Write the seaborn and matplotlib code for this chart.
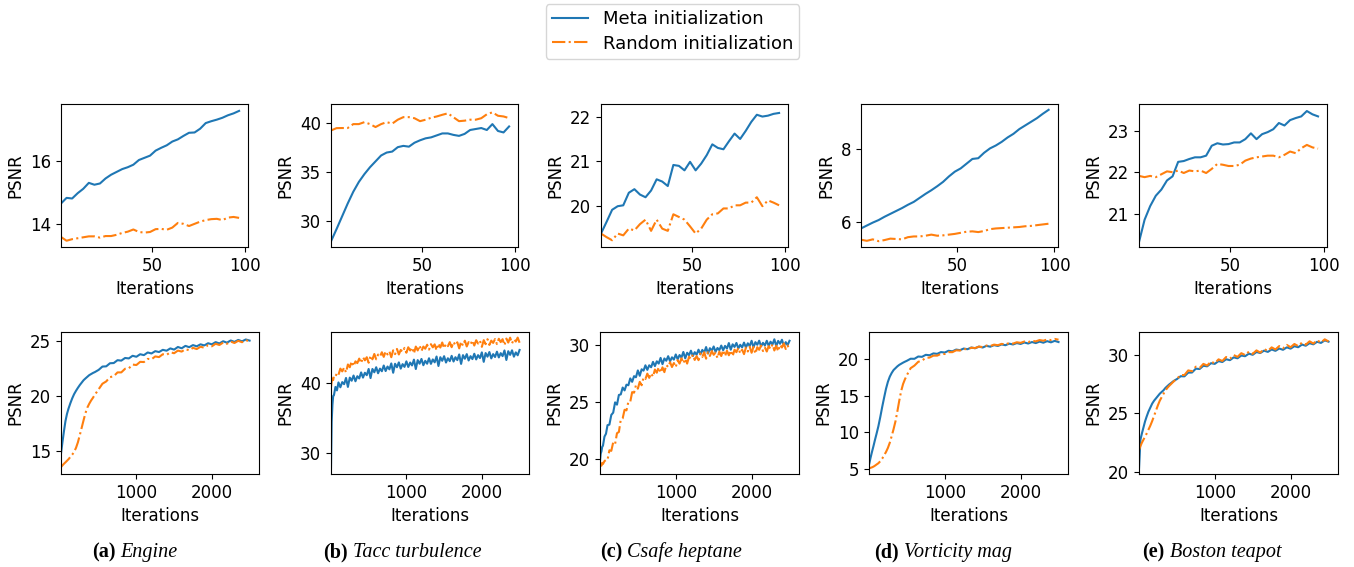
import matplotlib
matplotlib.use("Agg")
import matplotlib.pyplot as plt
import seaborn as sns
from matplotlib.lines import Line2D

# ---------------- data ----------------
top_iters = [1, 4, 7, 10, 13, 16, 19, 22, 25, 28, 31, 34, 37, 40, 43, 46, 49,
             52, 55, 58, 61, 64, 67, 70, 73, 76, 79, 82, 85, 88, 91, 94, 97]

bottom_iters = [1, 20, 40, 60, 80, 100, 125, 150, 175, 200, 225, 250, 275, 300,
                325, 350, 375, 400, 425, 450, 475, 500,
                550, 600, 650, 700, 750, 800, 850, 900, 950, 1000, 1050, 1100,
                1150, 1200, 1250, 1300, 1350, 1400, 1450, 1500, 1550, 1600, 1650,
                1700, 1750, 1800, 1850, 1900, 1950, 2000, 2050, 2100, 2150, 2200,
                2250, 2300, 2350, 2400, 2450, 2500]

# finer sampling for the two noisy runs
dense_iters = [1, 10, 20, 30, 40, 60, 80,
               100, 125, 150, 175, 200, 225, 250, 275, 300, 325, 350, 375, 400,
               425, 450, 475, 500, 525, 550, 575, 600, 625, 650, 675, 700, 725,
               750, 775, 800, 825, 850, 875, 900, 925, 950, 975, 1000, 1025, 1050,
               1075, 1100, 1125, 1150, 1175, 1200, 1225, 1250, 1275, 1300, 1325,
               1350, 1375, 1400, 1425, 1450, 1475, 1500, 1525, 1550, 1575, 1600,
               1625, 1650, 1675, 1700, 1725, 1750, 1775, 1800, 1825, 1850, 1875,
               1900, 1925, 1950, 1975, 2000, 2025, 2050, 2075, 2100, 2125, 2150,
               2175, 2200, 2225, 2250, 2275, 2300, 2325, 2350, 2375, 2400, 2425,
               2450, 2475, 2500]

# --- top row (first 100 iterations) ---
engine_top_meta = [14.64, 14.82, 14.80, 14.97, 15.11, 15.30, 15.24, 15.28, 15.44, 15.56, 15.65,
                   15.74, 15.80, 15.88, 16.03, 16.10, 16.17, 16.33, 16.42, 16.50, 16.62, 16.69,
                   16.80, 16.90, 16.91, 17.03, 17.21, 17.27, 17.32, 17.38, 17.46, 17.52, 17.60]
engine_top_random = [13.57, 13.45, 13.50, 13.53, 13.56, 13.59, 13.59, 13.55, 13.60, 13.60, 13.64,
                     13.70, 13.74, 13.81, 13.73, 13.71, 13.73, 13.82, 13.83, 13.80, 13.87, 14.02,
                     13.99, 13.92, 13.99, 14.06, 14.11, 14.14, 14.15, 14.11, 14.19, 14.21, 14.18]

tacc_top_meta = [27.95, 29.2, 30.5, 31.8, 33.0, 34.0, 34.8, 35.5, 36.1, 36.7, 37.0,
                 37.1, 37.55, 37.68, 37.6, 38.0, 38.25, 38.45, 38.55, 38.75, 38.95, 38.95,
                 38.8, 38.7, 38.9, 39.3, 39.4, 39.5, 39.3, 39.9, 39.2, 39.05, 39.66]
tacc_top_random = [39.25, 39.49, 39.5, 39.5, 39.9, 39.9, 40.1, 39.9, 39.6, 39.9, 40.1,
                   39.95, 40.35, 40.61, 40.61, 40.5, 40.2, 40.35, 40.55, 40.68, 40.85, 41.0,
                   40.6, 40.2, 40.25, 40.35, 40.35, 40.5, 40.9, 41.1, 40.75, 40.68, 40.51]

csafe_top_meta = [19.39, 19.65, 19.92, 20.0, 20.02, 20.3, 20.38, 20.26, 20.2, 20.35, 20.6,
                  20.55, 20.45, 20.92, 20.9, 20.8, 20.99, 20.8, 20.95, 21.14, 21.38, 21.3,
                  21.27, 21.45, 21.62, 21.5, 21.68, 21.88, 22.04, 22.0, 22.02, 22.06, 22.08]
csafe_top_random = [19.39, 19.31, 19.24, 19.39, 19.35, 19.5, 19.46, 19.6, 19.7, 19.45, 19.7,
                    19.5, 19.45, 19.82, 19.76, 19.7, 19.55, 19.39, 19.5, 19.7, 19.82, 19.84,
                    19.95, 19.95, 20.02, 20.02, 20.08, 20.08, 20.2, 20.0, 20.13, 20.08, 20.02]

vort_top_meta = [5.82, 5.9, 5.98, 6.05, 6.14, 6.22, 6.3, 6.38, 6.47, 6.55, 6.66,
                 6.77, 6.87, 6.98, 7.1, 7.25, 7.38, 7.47, 7.6, 7.73, 7.75, 7.9,
                 8.02, 8.1, 8.2, 8.32, 8.42, 8.55, 8.65, 8.75, 8.85, 8.97, 9.08]
vort_top_random = [5.51, 5.48, 5.52, 5.47, 5.5, 5.54, 5.53, 5.52, 5.58, 5.6, 5.6,
                   5.62, 5.65, 5.62, 5.63, 5.65, 5.67, 5.7, 5.73, 5.74, 5.72, 5.75,
                   5.8, 5.82, 5.83, 5.84, 5.85, 5.86, 5.88, 5.89, 5.91, 5.93, 5.95]

boston_top_meta = [20.31, 20.85, 21.18, 21.43, 21.58, 21.8, 21.9, 22.25, 22.27, 22.32, 22.36,
                   22.36, 22.4, 22.64, 22.7, 22.67, 22.68, 22.72, 22.72, 22.8, 22.94, 22.8,
                   22.92, 22.97, 23.04, 23.19, 23.13, 23.26, 23.31, 23.35, 23.48, 23.4, 23.35]
boston_top_random = [21.91, 21.88, 21.91, 21.88, 21.95, 22.02, 22.0, 22.04, 21.98, 22.04, 22.02,
                     22.04, 21.98, 22.08, 22.2, 22.18, 22.15, 22.15, 22.18, 22.28, 22.33, 22.36,
                     22.38, 22.4, 22.4, 22.36, 22.42, 22.5, 22.46, 22.58, 22.66, 22.6, 22.57]

# --- bottom row (2500 iterations) ---
engine_bot_meta = [14.79, 15.8, 16.8, 17.72, 18.37, 18.85, 19.35, 19.8, 20.18, 20.48, 20.75,
                   21.0, 21.22, 21.44, 21.6, 21.75, 21.9, 22.0, 22.1, 22.18, 22.28, 22.38,
                   22.68, 22.7, 22.98, 23.0, 23.26, 23.22, 23.46, 23.42, 23.66, 23.57,
                   23.8, 23.72, 23.96, 23.87, 24.08, 24.0, 24.2, 24.12, 24.33, 24.22,
                   24.46, 24.34, 24.56, 24.44, 24.63, 24.52, 24.7, 24.6, 24.8, 24.7,
                   24.9, 24.78, 24.98, 24.85, 25.05, 24.92, 25.1, 24.97, 25.14, 25.04]
engine_bot_random = [13.55, 13.7, 13.85, 13.98, 14.12, 14.26, 14.47, 14.68, 14.93, 15.3, 15.8,
                     16.45, 17.12, 17.8, 18.45, 18.95, 19.3, 19.6, 19.85, 20.13, 20.37, 20.62,
                     21.12, 21.33, 21.72, 21.8, 22.15, 22.15, 22.48, 22.52, 22.86, 22.82,
                     23.11, 23.09, 23.38, 23.34, 23.6, 23.54, 23.8, 23.74, 23.98, 23.89,
                     24.13, 24.04, 24.26, 24.16, 24.38, 24.27, 24.48, 24.39, 24.62, 24.52,
                     24.75, 24.64, 24.86, 24.75, 24.95, 24.82, 25.02, 24.89, 25.08, 24.96]

tacc_bot_meta = [27.74, 34.5, 36.9, 38.2, 38.3, 39.5, 39.0,
                 40.15, 39.45, 40.2, 39.9, 40.8, 39.5, 40.85, 40.4, 41.15, 40.32, 41.05, 40.73,
                 41.6, 40.85, 41.55, 41.2, 42.1, 40.78, 42.1, 41.62, 42.35, 41.48, 42.15, 41.77,
                 42.6, 41.8, 42.45, 42.05, 42.9, 41.55, 42.85, 42.35, 43.05, 42.15, 42.8, 42.4,
                 43.2, 42.39, 43.03, 42.61, 43.45, 42.09, 43.38, 42.86, 43.55, 42.64, 43.28, 42.86,
                 43.65, 42.84, 43.48, 43.06, 43.9, 42.53, 43.8, 43.28, 43.95, 43.03, 43.65, 43.23,
                 44.0, 43.18, 43.8, 43.38, 44.2, 42.83, 44.1, 43.58, 44.25, 43.33, 43.95, 43.53,
                 44.3, 43.48, 44.1, 43.68, 44.5, 43.13, 44.4, 43.88, 44.55, 43.63, 44.25, 43.83,
                 44.6, 43.77, 44.39, 43.96, 44.78, 43.4, 44.67, 44.14, 44.8, 43.88, 44.5, 44.08,
                 44.85]
tacc_bot_random = [39.5, 40.3, 40.7, 40.5, 41.1, 41.0, 41.5,
                   41.25, 42.15, 41.75, 42.3, 41.6, 42.75, 42.35, 43.2, 42.5, 43.2, 42.95, 43.6,
                   42.95, 43.8, 43.35, 43.8, 43.0, 44.03, 43.5, 44.27, 43.5, 44.18, 43.9, 44.52,
                   43.85, 44.65, 44.2, 44.65, 43.8, 44.8, 44.25, 45.0, 44.2, 44.85, 44.55, 45.15,
                   44.45, 45.24, 44.78, 45.21, 44.35, 45.34, 44.78, 45.51, 44.7, 45.34, 45.03, 45.61,
                   44.9, 45.69, 45.23, 45.66, 44.8, 45.78, 45.2, 45.93, 45.1, 45.73, 45.4, 45.98,
                   45.25, 46.02, 45.54, 45.96, 45.08, 46.05, 45.47, 46.19, 45.36, 45.98, 45.65, 46.22,
                   45.49, 46.26, 45.78, 46.19, 45.3, 46.27, 45.69, 46.41, 45.58, 46.2, 45.87, 46.43,
                   45.7, 46.47, 45.99, 46.41, 45.53, 46.5, 45.92, 46.63, 45.8, 46.41, 46.07, 46.64,
                   45.9]

csafe_bot_meta = [19.9, 20.5, 20.7, 21.1, 21.2, 22.0, 22.25,
                  23.0, 23.05, 23.9, 24.1, 25.0, 24.8, 25.65, 25.7, 26.3, 26.05, 26.55, 26.5,
                  27.1, 26.8, 27.3, 27.2, 27.8, 27.33, 27.9, 27.78, 28.25, 27.85, 28.25, 28.08,
                  28.55, 28.18, 28.6, 28.4, 28.9, 28.35, 28.85, 28.65, 29.05, 28.6, 28.95, 28.75,
                  29.2, 28.78, 29.15, 28.93, 29.42, 28.86, 29.35, 29.14, 29.53, 29.06, 29.4, 29.18,
                  29.62, 29.21, 29.6, 29.37, 29.85, 29.28, 29.75, 29.53, 29.9, 29.43, 29.77, 29.58,
                  29.98, 29.57, 29.95, 29.72, 30.2, 29.62, 30.09, 29.86, 30.21, 29.73, 30.05, 29.82,
                  30.24, 29.81, 30.18, 29.94, 30.4, 29.82, 30.28, 30.05, 30.41, 29.91, 30.22, 29.99,
                  30.4, 29.96, 30.32, 30.07, 30.53, 29.93, 30.39, 30.14, 30.49, 29.98, 30.28, 30.02,
                  30.4]
csafe_bot_random = [19.4, 19.6, 19.45, 19.7, 19.6, 19.85, 19.95,
                    19.95, 20.8, 20.75, 21.5, 21.35, 22.3, 22.4, 23.5, 23.6, 24.35, 24.3, 25.05,
                    25.05, 25.9, 25.85, 26.5, 26.2, 26.8, 26.5, 27.18, 27.05, 27.52, 27.15, 27.55,
                    27.25, 27.88, 27.6, 28.08, 27.6, 28.07, 27.65, 28.28, 28.1, 28.52, 28.1, 28.45,
                    28.1, 28.7, 28.4, 28.86, 28.43, 28.83, 28.4, 29.0, 28.8, 29.18, 28.72, 29.06,
                    28.7, 29.29, 28.98, 29.4, 28.83, 29.4, 29.07, 29.5, 29.17, 29.37, 28.88, 29.45,
                    29.06, 29.58, 29.05, 29.53, 29.13, 29.55, 29.05, 29.62, 29.4, 29.78, 29.3, 29.62,
                    29.23, 29.8, 29.46, 29.88, 29.35, 29.86, 29.27, 29.84, 29.61, 29.98, 29.5, 29.82,
                    29.46, 29.93, 29.68, 30.09, 29.55, 29.97, 29.48, 30.05, 29.81, 30.17, 29.68, 29.99,
                    29.6]

vort_bot_meta = [5.6, 6.5, 7.35, 8.15, 9.0, 9.8, 10.85, 12.1, 13.45, 14.7, 15.9,
                 16.85, 17.55, 18.05, 18.45, 18.7, 18.95, 19.15, 19.3, 19.45, 19.58, 19.7,
                 19.98, 19.97, 20.28, 20.24, 20.51, 20.45, 20.7, 20.64, 20.88, 20.82,
                 21.06, 20.98, 21.22, 21.14, 21.36, 21.27, 21.5, 21.4, 21.62, 21.5,
                 21.72, 21.61, 21.82, 21.71, 21.92, 21.81, 22.02, 21.91, 22.1, 21.98,
                 22.18, 22.04, 22.24, 22.1, 22.3, 22.15, 22.36, 22.2, 22.4, 22.24]
vort_bot_random = [5.14, 5.2, 5.27, 5.37, 5.5, 5.65, 5.83, 6.1, 6.45, 6.9, 7.35,
                   7.9, 8.6, 9.5, 10.45, 11.5, 12.85, 14.3, 15.6, 16.55, 17.2, 17.75,
                   18.7, 19.05, 19.56, 19.74, 20.09, 20.14, 20.4, 20.4, 20.64, 20.62,
                   20.87, 20.87, 21.12, 21.09, 21.3, 21.26, 21.47, 21.42, 21.62, 21.56,
                   21.76, 21.7, 21.89, 21.81, 21.99, 21.92, 22.11, 22.03, 22.21, 22.13,
                   22.31, 22.23, 22.41, 22.33, 22.51, 22.42, 22.59, 22.5, 22.66, 22.56]

boston_bot_meta = [20.25, 22.75, 23.3, 23.8, 24.3, 24.7, 25.15, 25.5, 25.85, 26.1, 26.3,
                   26.5, 26.7, 26.85, 27.0, 27.2, 27.35, 27.5, 27.62, 27.75, 27.86, 27.95,
                   28.2, 28.19, 28.51, 28.52, 28.85, 28.82, 29.1, 29.05, 29.32, 29.26,
                   29.5, 29.42, 29.66, 29.58, 29.82, 29.74, 29.98, 29.92, 30.14, 30.04,
                   30.28, 30.19, 30.4, 30.29, 30.5, 30.38, 30.58, 30.47, 30.68, 30.57,
                   30.78, 30.69, 30.92, 30.82, 31.04, 30.94, 31.16, 31.06, 31.28, 31.17]
boston_bot_random = [21.86, 22.2, 22.5, 22.75, 23.0, 23.25, 23.6, 23.95, 24.35, 24.8, 25.25,
                     25.7, 26.1, 26.4, 26.7, 26.98, 27.2, 27.38, 27.54, 27.7, 27.85, 27.98,
                     28.3, 28.3, 28.7, 28.63, 29.02, 28.91, 29.26, 29.12, 29.46, 29.31,
                     29.65, 29.51, 29.85, 29.7, 30.02, 29.86, 30.18, 30.02, 30.31, 30.12,
                     30.42, 30.23, 30.54, 30.37, 30.68, 30.5, 30.79, 30.6, 30.89, 30.69,
                     30.97, 30.79, 31.09, 30.91, 31.2, 31.01, 31.29, 31.09, 31.37, 31.19]

series_labels = ["Meta initialization", "Random initialization"]
caption_tags = ["(a)", "(b)", "(c)", "(d)", "(e)"]
caption_names = ["Engine", "Tacc turbulence", "Csafe heptane", "Vorticity mag", "Boston teapot"]

top_meta = [engine_top_meta, tacc_top_meta, csafe_top_meta, vort_top_meta, boston_top_meta]
top_random = [engine_top_random, tacc_top_random, csafe_top_random, vort_top_random, boston_top_random]
bot_x = [bottom_iters, dense_iters, dense_iters, bottom_iters, bottom_iters]
bot_meta = [engine_bot_meta, tacc_bot_meta, csafe_bot_meta, vort_bot_meta, boston_bot_meta]
bot_random = [engine_bot_random, tacc_bot_random, csafe_bot_random, vort_bot_random, boston_bot_random]

# ---------------- layout / style ----------------
W, H, DPI = 1354, 567, 100
plt.rcParams["font.family"] = ["DejaVu Sans"]
plt.rcParams["font.size"] = 12

BLUE = "#1f77b4"
ORANGE = "#ff7f0e"

# axes boxes in pixels: (left, right, top, bottom)
top_boxes = [(61, 248, 104, 247), (331, 518, 104, 247), (601, 788, 104, 247),
             (861, 1058, 104, 247), (1139, 1327, 104, 247)]
bot_boxes = [(61, 259, 332, 474), (331, 529, 332, 474), (600, 799, 332, 474),
             (869, 1068, 332, 474), (1139, 1338, 332, 474)]

top_ylims = [(13.25, 17.82), (27.37, 41.95), (19.09, 22.28), (5.31, 9.24), (20.19, 23.65)]
bot_ylims = [(12.92, 25.82), (26.9, 47.45), (18.72, 31.17), (4.37, 23.6), (19.8, 32.0)]
top_yticks = [[14, 16], [30, 35, 40], [20, 21, 22], [6, 8], [21, 22, 23]]
bot_yticks = [[15, 20, 25], [30, 40], [20, 25, 30], [5, 10, 15, 20], [20, 25, 30]]

fig = plt.figure(figsize=(W / DPI, H / DPI), dpi=DPI)


def make_ax(box):
    l, r, t, b = box
    return fig.add_axes([l / W, 1 - b / H, (r - l) / W, (b - t) / H])


def draw(ax, x, meta, rand):
    sns.lineplot(x=x, y=meta, ax=ax, color=BLUE, linewidth=1.5,
                 estimator=None, sort=False)
    sns.lineplot(x=x, y=rand, ax=ax, color=ORANGE, linewidth=1.5,
                 linestyle="-.", estimator=None, sort=False)
    ax.set_xlabel("Iterations", fontsize=12)
    ax.set_ylabel("PSNR", fontsize=12)
    ax.tick_params(labelsize=12)


for i in range(5):
    ax = make_ax(top_boxes[i])
    draw(ax, top_iters, top_meta[i], top_random[i])
    ax.set_xlim(1, 101.8)
    ax.set_xticks([50, 100])
    ax.set_ylim(*top_ylims[i])
    ax.set_yticks(top_yticks[i])

    ax = make_ax(bot_boxes[i])
    draw(ax, bot_x[i], bot_meta[i], bot_random[i])
    ax.set_xlim(1, 2625)
    ax.set_xticks([1000, 2000])
    ax.set_ylim(*bot_ylims[i])
    ax.set_yticks(bot_yticks[i])

# legend
handles = [Line2D([], [], color=BLUE, linewidth=1.5, linestyle="-"),
           Line2D([], [], color=ORANGE, linewidth=1.5, linestyle="-.")]
fig.legend(handles, series_labels, loc="upper center", fontsize=13,
           labelspacing=0.35, borderpad=0.35,
           bbox_to_anchor=(672.5 / W, 1 - 4 / H), borderaxespad=0)

# captions: bold tag + italic name, centred under each column
fig.canvas.draw()
renderer = fig.canvas.get_renderer()
cap_centers = [135, 402, 671, 943, 1212]
cap_fs = 14.5
yb = 1 - 557 / H
for i in range(5):
    t1 = fig.text(0, yb, caption_tags[i], family=["Liberation Serif", "DejaVu Serif"],
                  weight="bold", fontsize=cap_fs, va="baseline", ha="left")
    t2 = fig.text(0, yb, caption_names[i], family=["Liberation Serif", "DejaVu Serif"],
                  style="italic", fontsize=cap_fs, va="baseline", ha="left")
    w1 = t1.get_window_extent(renderer).width
    w2 = t2.get_window_extent(renderer).width
    gap = 0.25 * cap_fs * DPI / 72
    x0 = cap_centers[i] - (w1 + gap + w2) / 2
    t1.set_x(x0 / W)
    t2.set_x((x0 + w1 + gap) / W)

fig.savefig("out.png", dpi=DPI)
